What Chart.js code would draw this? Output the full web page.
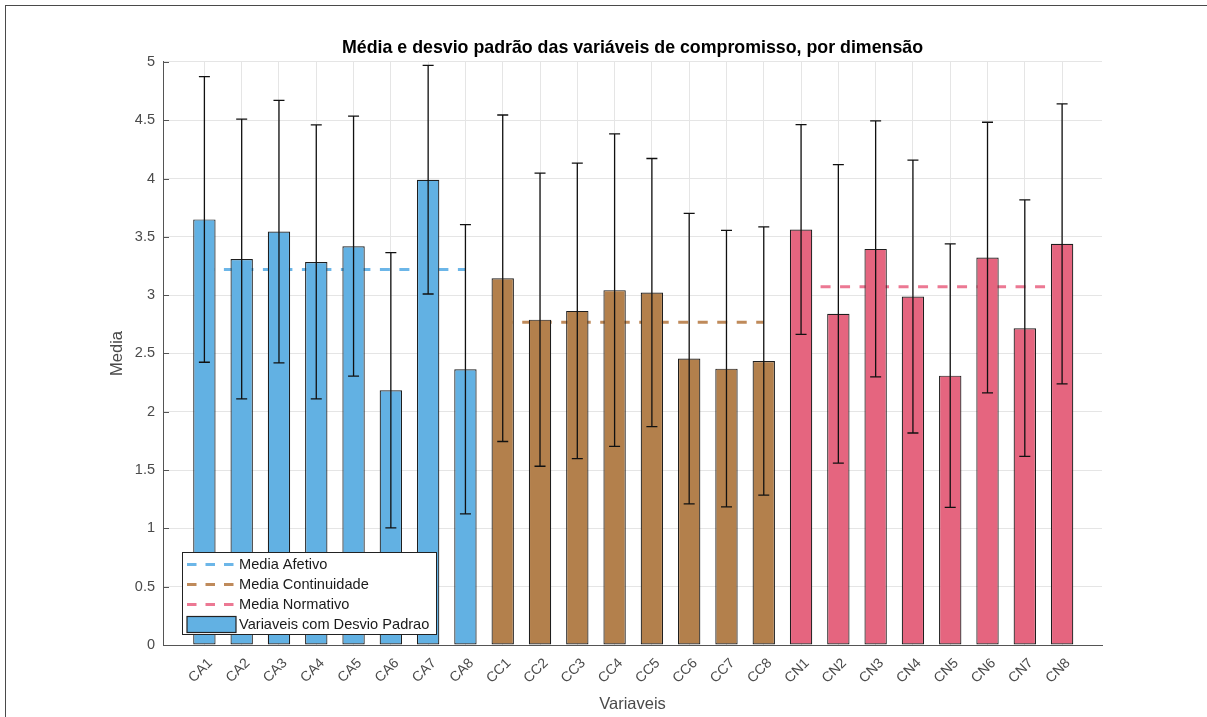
<!DOCTYPE html>
<html lang="pt">
<head>
<meta charset="utf-8">
<title>Média e desvio padrão das variáveis de compromisso</title>
<script src="https://cdn.jsdelivr.net/npm/chart.js@4.4.1/dist/chart.umd.min.js"></script>
<style>
  html, body { margin: 0; padding: 0; background: #ffffff; }
  #wrap { position: relative; width: 1207px; height: 717px; overflow: hidden; }
  #chart { position: absolute; left: 0; top: 0; }
  #frame {
    position: absolute; left: 5px; top: 5px; width: 1400px; height: 900px;
    border-left: 1.5px solid #4a4a4a; border-top: 1.5px solid #4a4a4a;
    pointer-events: none;
  }
</style>
</head>
<body>
<div id="wrap">
  <canvas id="chart" width="1207" height="717"></canvas>
  <div id="frame"></div>
</div>
<script>
// ---- data ----
const afetivoLabels      = ['CA1', 'CA2', 'CA3', 'CA4', 'CA5', 'CA6', 'CA7', 'CA8'];
const continuidadeLabels = ['CC1', 'CC2', 'CC3', 'CC4', 'CC5', 'CC6', 'CC7', 'CC8'];
const normativoLabels    = ['CN1', 'CN2', 'CN3', 'CN4', 'CN5', 'CN6', 'CN7', 'CN8'];

const afetivoMeans      = [3.65, 3.31, 3.545, 3.285, 3.42, 2.185, 3.99, 2.365];
const afetivoSD         = [1.225, 1.20, 1.125, 1.175, 1.115, 1.18, 0.98, 1.24];
const continuidadeMeans = [3.145, 2.79, 2.865, 3.043, 3.022, 2.456, 2.37, 2.435];
const continuidadeSD    = [1.40, 1.257, 1.267, 1.34, 1.15, 1.245, 1.185, 1.15];
const normativoMeans    = [3.563, 2.84, 3.397, 2.988, 2.31, 3.323, 2.717, 3.44];
const normativoSD       = [0.90, 1.28, 1.098, 1.17, 1.13, 1.16, 1.10, 1.20];

// overall mean of each dimension
const mediaAfetivo      = 3.22;
const mediaContinuidade = 2.767;
const mediaNormativo    = 3.073;

const yTickValues = [0, 0.5, 1, 1.5, 2, 2.5, 3, 3.5, 4, 4.5, 5];
const yTickLabels = ['0', '0.5', '1', '1.5', '2', '2.5', '3', '3.5', '4', '4.5', '5'];

// ---- styling ----
const COLOR_A = '#62b1e3';
const COLOR_C = '#b3804c';
const COLOR_N = '#e5657f';
const LINE_A  = '#6cb6e8';
const LINE_C  = '#bf8a5a';
const LINE_N  = '#ec7893';
const FONT = "'Liberation Sans', Arial, Helvetica, sans-serif";

const categories = [...afetivoLabels, ...continuidadeLabels, ...normativoLabels];
const means = [...afetivoMeans, ...continuidadeMeans, ...normativoMeans];
const sds = [...afetivoSD, ...continuidadeSD, ...normativoSD];
const barColors = [
  ...afetivoLabels.map(() => COLOR_A),
  ...continuidadeLabels.map(() => COLOR_C),
  ...normativoLabels.map(() => COLOR_N)
];

const pos = (label) => categories.indexOf(label) + 1;
const meanLine = (labels, value) => [
  { x: pos(labels[0]), y: value },
  { x: pos(labels[labels.length - 1]), y: value }
];

const lineStyle = (color) => ({
  type: 'line',
  borderColor: color,
  backgroundColor: color,
  borderWidth: 3,
  borderDash: [10, 9.5],
  pointRadius: 0,
  fill: false,
  order: 2
});

// inward tick marks on the y axis
const innerTicks = {
  id: 'innerTicks',
  beforeDatasetsDraw(chart) {
    const { ctx, scales: { y }, chartArea } = chart;
    ctx.save();
    ctx.strokeStyle = '#555555';
    ctx.lineWidth = 1;
    yTickValues.forEach(v => {
      const py = Math.round(y.getPixelForValue(v)) + 0.5;
      ctx.beginPath();
      ctx.moveTo(chartArea.left, py);
      ctx.lineTo(chartArea.left + 6, py);
      ctx.stroke();
    });
    ctx.restore();
  }
};

// standard deviation whiskers over each bar
const errorBars = {
  id: 'errorBars',
  afterDatasetsDraw(chart) {
    const { ctx, scales: { y } } = chart;
    const barIndex = chart.data.datasets.findIndex(d => d.type === 'bar');
    const meta = chart.getDatasetMeta(barIndex);
    ctx.save();
    ctx.strokeStyle = '#111111';
    ctx.lineWidth = 1.3;
    meta.data.forEach((el, i) => {
      const x = el.x;
      const top = y.getPixelForValue(means[i] + sds[i]);
      const bot = y.getPixelForValue(means[i] - sds[i]);
      ctx.beginPath();
      ctx.moveTo(x, top); ctx.lineTo(x, bot);
      ctx.moveTo(x - 5.5, top); ctx.lineTo(x + 5.5, top);
      ctx.moveTo(x - 5.5, bot); ctx.lineTo(x + 5.5, bot);
      ctx.stroke();
    });
    ctx.restore();
  }
};

// legend box drawn inside the lower-left corner of the plot
const innerLegend = {
  id: 'innerLegend',
  afterDraw(chart) {
    const { ctx, chartArea } = chart;
    const boxW = 254, boxH = 82;
    const bx = chartArea.left + 19;
    const by = chartArea.bottom - 11 - boxH;
    ctx.save();
    ctx.fillStyle = '#ffffff';
    ctx.fillRect(bx, by, boxW, boxH);
    ctx.strokeStyle = '#222222';
    ctx.lineWidth = 1;
    ctx.strokeRect(bx + 0.5, by + 0.5, boxW, boxH);

    const rowH = 20;
    const firstRow = by + 12.5;
    const sx0 = bx + 5, sx1 = bx + 54;
    ctx.font = '14.6px ' + FONT;
    ctx.textBaseline = 'middle';
    ctx.textAlign = 'left';
    const lines = chart.data.datasets.filter(d => d.type === 'line');
    const bars = chart.data.datasets.filter(d => d.type === 'bar');
    lines.forEach((d, i) => {
      const cy = firstRow + i * rowH;
      ctx.strokeStyle = d.borderColor;
      ctx.lineWidth = 3;
      ctx.setLineDash([9.5, 9]);
      ctx.beginPath();
      ctx.moveTo(sx0, cy); ctx.lineTo(sx1, cy);
      ctx.stroke();
      ctx.setLineDash([]);
      ctx.fillStyle = '#1a1a1a';
      ctx.fillText(d.label, bx + 57, cy + 0.5);
    });
    bars.forEach((d, j) => {
      const cy = firstRow + (lines.length + j) * rowH;
      ctx.fillStyle = Array.isArray(d.backgroundColor) ? d.backgroundColor[0] : d.backgroundColor;
      ctx.fillRect(sx0, cy - 8, sx1 - sx0, 16);
      ctx.strokeStyle = '#222222';
      ctx.lineWidth = 1.2;
      ctx.strokeRect(sx0, cy - 8, sx1 - sx0, 16);
      ctx.fillStyle = '#1a1a1a';
      ctx.fillText(d.label, bx + 57, cy + 0.5);
    });
    ctx.restore();
  }
};

new Chart(document.getElementById('chart'), {
  data: {
    datasets: [
      Object.assign(lineStyle(LINE_A), { label: 'Media Afetivo', data: meanLine(afetivoLabels, mediaAfetivo) }),
      Object.assign(lineStyle(LINE_C), { label: 'Media Continuidade', data: meanLine(continuidadeLabels, mediaContinuidade) }),
      Object.assign(lineStyle(LINE_N), { label: 'Media Normativo', data: meanLine(normativoLabels, mediaNormativo) }),
      {
        type: 'bar',
        label: 'Variaveis com Desvio Padrao',
        data: means.map((v, i) => ({ x: i + 1, y: v })),
        backgroundColor: barColors,
        borderColor: '#1e1e1e',
        borderWidth: 1.2,
        borderSkipped: false,
        barPercentage: 0.6,
        categoryPercentage: 1,
        order: 1
      }
    ]
  },
  options: {
    responsive: false,
    animation: false,
    devicePixelRatio: 1,
    layout: { padding: { left: 0, right: 105, top: 0, bottom: 0 } },
    plugins: {
      legend: { display: false },
      tooltip: { enabled: false },
      title: {
        display: true,
        fullSize: false,
        text: 'Média e desvio padrão das variáveis de compromisso, por dimensão',
        color: '#000000',
        font: { family: FONT, size: 17.8, weight: 'bold', lineHeight: 1.2 },
        padding: { top: 37, bottom: 3.6 }
      }
    },
    scales: {
      x: {
        type: 'linear',
        offset: false,
        min: -0.11,
        max: 25.07,
        afterBuildTicks: (scale) => {
          scale.ticks = categories.map((_, i) => ({ value: i + 1 }));
        },
        afterFit: (scale) => { scale.height = 72; },
        ticks: {
          autoSkip: false,
          minRotation: 45,
          maxRotation: 45,
          padding: 10,
          labelOffset: 6,
          color: '#4a4a4a',
          font: { family: FONT, size: 14 },
          callback: (value) => categories[value - 1]
        },
        grid: { offset: false, color: '#e5e5e5', lineWidth: 1, drawTicks: false },
        border: { display: true, color: '#555555', width: 1 },
        title: {
          display: true,
          text: 'Variaveis',
          color: '#4a4a4a',
          font: { family: FONT, size: 16.5 },
          padding: { top: 0, bottom: 3 }
        }
      },
      y: {
        type: 'linear',
        min: 0,
        max: 5,
        afterBuildTicks: (scale) => {
          scale.ticks = yTickValues.map(v => ({ value: v }));
        },
        afterFit: (scale) => { scale.width = 163; },
        ticks: {
          padding: 8,
          color: '#4a4a4a',
          font: { family: FONT, size: 14.5 },
          callback: (value) => yTickLabels[yTickValues.indexOf(value)]
        },
        grid: { color: '#e5e5e5', lineWidth: 1, drawTicks: false },
        border: { display: true, color: '#555555', width: 1 },
        title: {
          display: true,
          text: 'Media',
          color: '#4a4a4a',
          font: { family: FONT, size: 16.5 },
          padding: { top: 108, bottom: 0 }
        }
      }
    }
  },
  plugins: [innerTicks, errorBars, innerLegend]
});
</script>
</body>
</html>
